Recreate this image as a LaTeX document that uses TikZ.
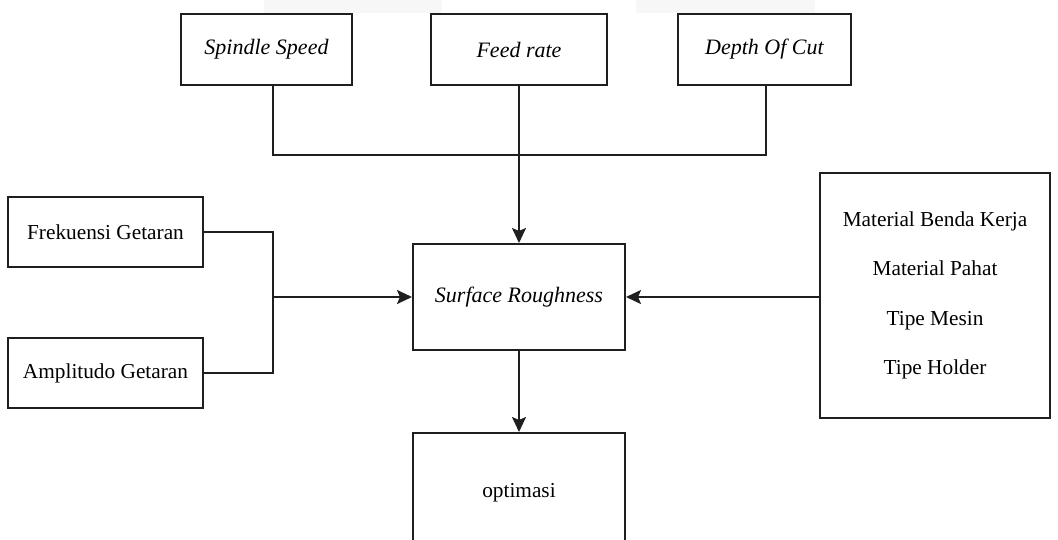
\documentclass[tikz,border=0pt]{standalone}
\usepackage{fontspec}
\setmainfont{Liberation Serif}
\usetikzlibrary{arrows.meta}
\tikzset{
  box/.style={draw=black!88, line width=2pt, rectangle, inner sep=0pt, font=\fontsize{21.3}{25}\selectfont},
  conn/.style={draw=black!88, line width=2pt},
  arr/.style={conn, -{Stealth[length=15pt,width=14pt,inset=3pt]}},
  ghost/.style={fill=black!3, draw=none}
}
\begin{document}
\begin{tikzpicture}[x=1pt,y=-1pt]
\useasboundingbox (0,0) rectangle (1058,539);
\clip (0,0) rectangle (1058,539);
% faint background artifacts
\fill[ghost] (264,0) rectangle (442,13);
\fill[ghost] (636,0) rectangle (815,13);
% top boxes
\node[box, minimum width=171pt, minimum height=71pt, font=\fontsize{22}{26}\selectfont\itshape] (ss) at (266.5,49.5) {Spindle Speed};
\node[box, minimum width=176pt, minimum height=71pt, font=\fontsize{22}{26}\selectfont\itshape] (fr) at (519,49.5) {Feed rate};
\node[box, minimum width=173pt, minimum height=71pt, font=\fontsize{22}{26}\selectfont\itshape] (dc) at (764.5,49.5) {Depth Of Cut};
% left boxes
\node[box, minimum width=195pt, minimum height=70pt] (fg) at (105.5,232) {Frekuensi Getaran};
\node[box, minimum width=195pt, minimum height=70pt] (ag) at (105.5,373) {Amplitudo Getaran};
% centre
\node[box, minimum width=212pt, minimum height=106pt, font=\fontsize{22}{26}\selectfont\itshape] (sr) at (519,297) {Surface Roughness};
\node[box, minimum width=212pt, minimum height=120pt] (op) at (519,493) {optimasi};
% right box
\node[box, minimum width=230pt, minimum height=245pt, align=center, font=\fontsize{21.3}{49.5}\selectfont] (mt) at (935,295.5) {Material Benda Kerja\\Material Pahat\\Tipe Mesin\\Tipe Holder};
% junction coordinates
\coordinate (jt) at (519,155);
\coordinate (jl) at (273,297);
% connectors top
\draw[conn] (ss.south -| 273,0) |- (jt);
\draw[conn] (dc.south -| 766,0) |- (jt);
\draw[arr] (fr.south) -- (sr.north);
% connectors left
\draw[conn] (fg.east) -| (jl);
\draw[conn] (ag.east) -| (jl);
\draw[arr] (jl) -- (sr.west);
% right
\draw[arr] (mt.west |- sr.east) -- (sr.east);
% down
\draw[arr] (sr.south) -- (op.north);
\end{tikzpicture}
\end{document}
